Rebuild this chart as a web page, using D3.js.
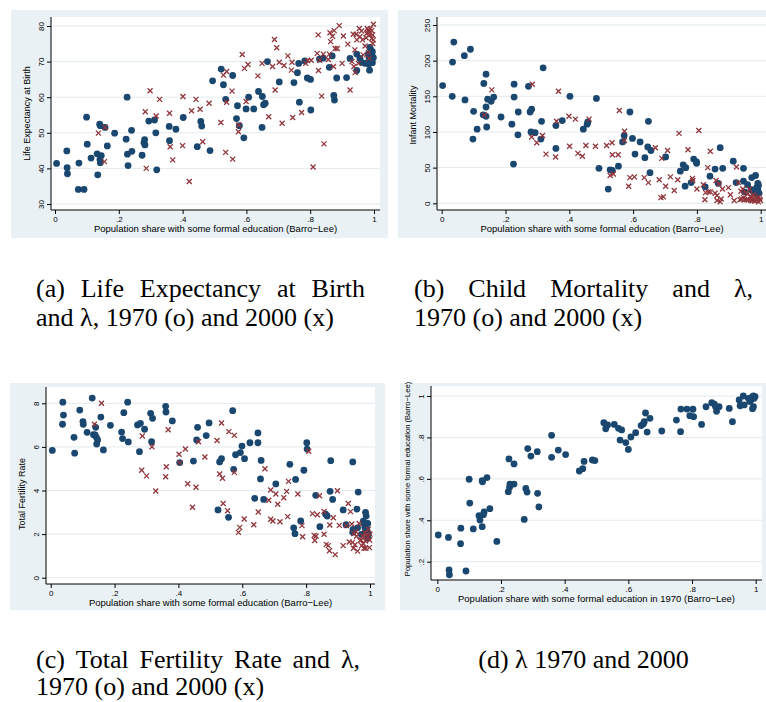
<!DOCTYPE html>
<html lang="en">
<head>
<meta charset="UTF-8">
<title>Education and development, 1970 and 2000</title>
<script src="https://d3js.org/d3.v7.min.js"></script>
<style>
body { margin: 0; background: #fff; }
svg { display: block; }
.tick text { font-family: "Liberation Sans", Arial, sans-serif; font-size: 8px; fill: #000; }
.tick line { stroke: #000; }
.axtitle { font-family: "Liberation Sans", Arial, sans-serif; font-size: 9.5px; fill: #000; }
.cap { font-family: "Liberation Serif", "Times New Roman", serif; font-size: 26px; fill: #000; }
</style>
</head>
<body>
<div id="chart"></div>
<script>
// ---- data: [share with formal education, value] ----
var xTicks = [0, .2, .4, .6, .8, 1];
var yTicksLE = [30, 40, 50, 60, 70, 80];
var yTicksIM = [0, 50, 100, 150, 200, 250];
var yTicksTFR = [0, 2, 4, 6, 8];
var yTicksLam = [.2, .4, .6, .8, 1];

// (a) life expectancy, 1970 dots / 2000 crosses
var leDots = [[0.005,41.4],[0.037,44.9],[0.038,40.2],[0.039,38.5],[0.073,34.1],[0.075,41.5],[0.091,34.1],[0.099,54.4],[0.101,46.8],[0.113,42.9],[0.132,44.1],[0.134,38.2],[0.140,52.4],[0.142,52.0],[0.145,43.6],[0.141,42.5],[0.142,41.6],[0.157,51.5],[0.164,46.3],[0.187,49.9],[0.223,48.2],[0.226,60.0],[0.227,44.0],[0.229,40.8],[0.240,50.7],[0.241,44.8],[0.273,43.7],[0.279,47.2],[0.281,48.1],[0.282,46.6],[0.294,53.3],[0.312,53.6],[0.316,50.0],[0.319,39.6],[0.358,51.8],[0.359,47.8],[0.379,51.0],[0.402,54.3],[0.446,46.1],[0.457,53.2],[0.460,51.9],[0.486,45.0],[0.494,64.6],[0.521,67.9],[0.528,63.5],[0.535,59.4],[0.557,66.1],[0.569,54.0],[0.572,57.6],[0.578,52.0],[0.592,48.6],[0.599,56.7],[0.607,60.0],[0.623,56.7],[0.638,61.6],[0.650,60.2],[0.649,51.5],[0.654,57.9],[0.659,58.3],[0.666,70.0],[0.703,64.3],[0.749,64.1],[0.760,66.9],[0.764,69.5],[0.766,58.6],[0.783,70.2],[0.791,65.4],[0.801,65.0],[0.802,56.4],[0.829,70.7],[0.841,71.0],[0.860,68.4],[0.869,71.6],[0.874,60.5],[0.876,59.2],[0.883,65.4],[0.914,65.5],[0.925,70.9],[0.946,72.1],[0.946,67.5],[0.956,70.9],[0.961,69.8],[0.973,69.5],[0.982,72.1],[0.985,70.9],[0.987,74.0],[0.990,73.3],[0.993,71.9],[0.995,72.8],[0.993,70.0],[0.986,67.6],[0.995,69.7],[0.998,71.1],[0.984,69.3]];
var leCross = [[0.136,49.9],[0.155,41.9],[0.157,51.5],[0.283,55.9],[0.286,40.0],[0.298,61.8],[0.317,54.7],[0.328,59.4],[0.359,55.5],[0.361,46.1],[0.369,42.4],[0.401,60.2],[0.400,46.4],[0.421,36.3],[0.428,56.2],[0.442,59.4],[0.455,56.6],[0.463,47.5],[0.483,58.3],[0.520,52.9],[0.528,66.2],[0.535,44.5],[0.538,67.2],[0.538,58.6],[0.555,61.7],[0.557,42.6],[0.576,52.2],[0.575,50.3],[0.587,72.0],[0.594,68.1],[0.599,58.8],[0.605,69.2],[0.636,66.0],[0.649,69.5],[0.670,54.5],[0.682,68.6],[0.688,76.2],[0.690,62.0],[0.695,73.9],[0.703,69.8],[0.712,52.7],[0.718,68.9],[0.730,71.6],[0.741,67.6],[0.743,69.8],[0.745,54.3],[0.773,55.7],[0.786,69.5],[0.792,70.3],[0.803,70.4],[0.809,40.4],[0.822,72.3],[0.825,77.5],[0.826,67.5],[0.830,70.4],[0.836,60.3],[0.841,72.1],[0.843,46.9],[0.857,70.6],[0.860,72.1],[0.862,78.1],[0.864,75.6],[0.870,77.1],[0.873,68.6],[0.875,78.7],[0.878,73.7],[0.885,73.7],[0.891,80.1],[0.900,69.5],[0.904,77.2],[0.918,74.9],[0.925,62.0],[0.931,70.0],[0.935,77.7],[0.937,68.6],[0.940,73.3],[0.941,66.9],[0.944,77.7],[0.946,76.1],[0.951,69.5],[0.954,79.3],[0.956,77.0],[0.961,78.6],[0.964,76.1],[0.966,71.9],[0.972,74.4],[0.975,76.7],[0.977,77.9],[0.979,79.3],[0.982,78.9],[0.985,78.2],[0.987,77.5],[0.989,79.2],[0.993,78.7],[0.993,76.5],[0.996,77.5],[0.998,80.5],[0.998,76.1],[0.982,72.6],[0.985,70.9],[0.996,75.1]];

// (b) infant mortality
var imDots = [[0.003,165],[0.034,198],[0.038,226],[0.033,150],[0.071,207],[0.073,145],[0.090,216],[0.100,129],[0.098,90],[0.111,104],[0.132,168],[0.130,124],[0.139,181],[0.139,135],[0.139,122],[0.144,146],[0.141,107],[0.155,143],[0.163,149],[0.186,121],[0.220,111],[0.225,55],[0.227,167],[0.227,149],[0.240,128],[0.239,96],[0.272,164],[0.277,128],[0.282,132],[0.280,100],[0.293,99],[0.318,190],[0.313,115],[0.311,90],[0.358,109],[0.358,77],[0.378,116],[0.402,150],[0.444,104],[0.456,111],[0.458,114],[0.485,147],[0.493,49],[0.522,20],[0.528,47],[0.535,46],[0.554,52],[0.567,86],[0.572,95],[0.590,128],[0.598,91],[0.606,69],[0.622,86],[0.637,64],[0.646,79],[0.648,115],[0.653,43],[0.656,74],[0.702,65],[0.748,45],[0.757,54],[0.763,24],[0.765,50],[0.782,29],[0.790,62],[0.799,56],[0.799,58],[0.826,23],[0.841,38],[0.857,48],[0.867,28],[0.873,78],[0.881,49],[0.914,59],[0.923,29],[0.946,49],[0.946,31],[0.949,16],[0.959,26],[0.972,36],[0.984,39],[0.982,17],[0.987,22],[0.987,13],[0.991,19],[0.991,28],[0.993,25],[0.970,19],[0.995,14],[0.977,16]];
var imCross = [[0.134,124],[0.157,159],[0.284,167],[0.282,93],[0.298,85],[0.316,95],[0.327,69],[0.357,65],[0.360,115],[0.366,157],[0.401,80],[0.399,122],[0.419,118],[0.427,70],[0.441,66],[0.452,81],[0.462,118],[0.482,80],[0.517,81],[0.528,39],[0.534,85],[0.535,68],[0.538,41],[0.553,68],[0.557,130],[0.573,101],[0.573,88],[0.586,24],[0.590,36],[0.604,37],[0.635,36],[0.648,29],[0.670,78],[0.682,33],[0.687,8],[0.690,63],[0.695,9],[0.702,24],[0.708,74],[0.717,37],[0.729,18],[0.740,33],[0.744,98],[0.772,75],[0.786,35],[0.787,32],[0.800,20],[0.806,102],[0.820,26],[0.825,5],[0.827,15],[0.834,50],[0.836,16],[0.842,73],[0.842,16],[0.857,14],[0.860,32],[0.863,11],[0.863,4],[0.869,27],[0.873,2],[0.876,6],[0.880,20],[0.899,22],[0.905,12],[0.917,4],[0.924,51],[0.930,29],[0.935,5],[0.938,17],[0.940,6],[0.944,20],[0.946,8],[0.949,5],[0.953,15],[0.956,5],[0.959,13],[0.961,5],[0.965,20],[0.968,10],[0.970,4],[0.972,8],[0.975,4],[0.977,12],[0.980,6],[0.982,3],[0.984,8],[0.989,5],[0.993,2],[0.997,6],[0.999,4],[0.993,9]];

// (c) total fertility rate
var tfrDots = [[0.005,5.84],[0.037,7.04],[0.038,8.05],[0.040,7.46],[0.073,6.44],[0.075,5.71],[0.091,7.69],[0.101,7.16],[0.102,7.04],[0.114,6.67],[0.130,8.24],[0.134,6.56],[0.139,6.55],[0.141,6.90],[0.143,6.44],[0.144,6.13],[0.147,6.32],[0.157,7.37],[0.165,5.86],[0.187,6.99],[0.222,6.68],[0.225,6.38],[0.229,7.57],[0.241,8.05],[0.243,6.23],[0.272,7.01],[0.278,5.78],[0.281,7.08],[0.294,6.81],[0.313,7.54],[0.316,6.24],[0.319,7.31],[0.360,7.86],[0.361,7.60],[0.381,7.19],[0.404,5.28],[0.447,5.35],[0.457,6.32],[0.460,6.90],[0.487,6.52],[0.496,7.10],[0.524,3.11],[0.529,5.31],[0.535,5.46],[0.557,2.77],[0.570,7.66],[0.573,4.97],[0.579,5.64],[0.594,5.74],[0.599,6.04],[0.607,5.46],[0.624,6.19],[0.639,3.64],[0.649,6.64],[0.649,6.19],[0.657,4.53],[0.659,5.38],[0.667,3.59],[0.705,4.30],[0.749,5.20],[0.761,2.29],[0.765,2.02],[0.767,4.51],[0.783,2.60],[0.793,4.93],[0.802,6.19],[0.803,5.90],[0.830,3.78],[0.843,2.34],[0.861,2.91],[0.866,2.83],[0.877,5.37],[0.875,3.96],[0.883,3.59],[0.916,3.11],[0.925,2.43],[0.946,5.31],[0.947,2.22],[0.946,2.08],[0.961,2.29],[0.959,3.15],[0.963,3.93],[0.973,1.99],[0.979,2.59],[0.986,3.00],[0.988,2.83],[0.993,2.49],[0.990,2.22],[0.993,1.82],[0.984,2.31],[0.995,2.02],[0.982,2.49],[0.986,2.13]];
var tfrCross = [[0.137,7.04],[0.159,8.0],[0.285,4.93],[0.287,6.5],[0.300,4.67],[0.317,6.01],[0.329,3.98],[0.360,4.63],[0.362,5.09],[0.368,6.79],[0.402,5.66],[0.404,5.28],[0.422,5.90],[0.429,4.31],[0.444,3.23],[0.455,4.15],[0.463,6.24],[0.483,5.54],[0.521,6.29],[0.529,4.76],[0.535,7.10],[0.538,4.56],[0.540,3.40],[0.554,3.07],[0.558,6.70],[0.575,6.53],[0.575,4.83],[0.588,2.08],[0.592,2.31],[0.606,2.69],[0.636,2.43],[0.650,3.01],[0.671,5.00],[0.683,3.55],[0.689,4.02],[0.689,2.68],[0.696,2.60],[0.705,3.84],[0.711,3.37],[0.718,2.57],[0.730,3.67],[0.739,3.96],[0.742,2.80],[0.745,4.42],[0.774,3.84],[0.787,2.39],[0.789,1.88],[0.808,5.80],[0.820,2.94],[0.825,1.94],[0.827,1.71],[0.831,1.91],[0.835,2.89],[0.842,3.76],[0.856,3.04],[0.856,1.99],[0.863,1.53],[0.869,1.47],[0.873,1.24],[0.874,2.42],[0.885,2.75],[0.891,1.06],[0.898,3.99],[0.904,2.40],[0.916,1.47],[0.926,2.39],[0.932,3.40],[0.935,1.64],[0.939,3.03],[0.943,2.46],[0.945,1.62],[0.948,1.35],[0.949,2.03],[0.953,1.51],[0.956,2.11],[0.958,1.90],[0.961,1.22],[0.966,2.49],[0.969,1.70],[0.972,1.73],[0.974,1.47],[0.977,1.91],[0.979,1.56],[0.981,1.35],[0.984,2.06],[0.986,1.68],[0.990,1.99],[0.993,1.88],[0.995,2.23],[0.998,1.38],[0.999,1.73],[1.0,2.0],[0.987,1.35]];

// (d) share 1970 vs share 2000
var lamDots = [[0.003,0.329],[0.035,0.317],[0.037,0.160],[0.038,0.137],[0.073,0.287],[0.074,0.362],[0.090,0.155],[0.100,0.598],[0.102,0.483],[0.113,0.358],[0.131,0.422],[0.134,0.401],[0.141,0.591],[0.142,0.586],[0.141,0.369],[0.145,0.427],[0.147,0.440],[0.156,0.606],[0.165,0.456],[0.187,0.298],[0.223,0.538],[0.225,0.696],[0.228,0.575],[0.227,0.559],[0.241,0.672],[0.241,0.575],[0.273,0.404],[0.278,0.554],[0.282,0.536],[0.284,0.746],[0.294,0.710],[0.314,0.731],[0.315,0.530],[0.319,0.464],[0.359,0.810],[0.359,0.704],[0.380,0.739],[0.403,0.717],[0.446,0.638],[0.457,0.649],[0.461,0.684],[0.487,0.691],[0.495,0.688],[0.523,0.871],[0.529,0.842],[0.535,0.860],[0.556,0.863],[0.569,0.844],[0.579,0.836],[0.574,0.787],[0.592,0.775],[0.600,0.742],[0.608,0.802],[0.623,0.823],[0.640,0.857],[0.647,0.865],[0.650,0.876],[0.654,0.918],[0.659,0.826],[0.668,0.892],[0.705,0.831],[0.751,0.884],[0.764,0.828],[0.765,0.937],[0.784,0.937],[0.793,0.905],[0.803,0.936],[0.805,0.900],[0.830,0.863],[0.844,0.948],[0.862,0.968],[0.870,0.961],[0.874,0.948],[0.877,0.926],[0.885,0.948],[0.917,0.940],[0.927,0.876],[0.948,0.981],[0.951,0.953],[0.961,1.0],[0.964,0.957],[0.977,0.989],[0.985,0.981],[0.990,0.997],[0.993,1.0],[0.995,0.989],[0.993,0.948],[0.990,0.939],[0.982,0.973],[0.998,0.997],[0.988,0.992],[0.980,0.985]];

var xTitle = "Population share with some formal education (Barro\u2212Lee)";
var xTitle70 = "Population share with some formal education in 1970 (Barro\u2212Lee)";

var navy = "#1a476f", maroon = "#90353b", panelBg = "#e9f1f4", gridCol = "#e1eaee";

// layout of each Stata panel (pixels)
var panels = [
  { bg: [11, 10, 388, 238], plot: [51, 17, 380, 210], xr: [55, 374], yd: [30, 80], yr: [204, 26],
    yTicks: yTicksLE, yTitle: "Life Expectancy at Birth", yTitleC: 113.5, xTitle: xTitle, dots: leDots, cross: leCross },
  { bg: [398, 10, 780, 238], plot: [437, 17, 767, 210], xr: [441.7, 760.7], yd: [0, 250], yr: [203.3, 25],
    yTicks: yTicksIM, yTitle: "Infant Mortality", yTitleC: 115, xTitle: xTitle, dots: imDots, cross: imCross },
  { bg: [10, 383, 385, 610], plot: [46, 387, 375, 584], xr: [50.7, 370], yd: [0, 8], yr: [577.7, 403.3],
    yTicks: yTicksTFR, yTitle: "Total Fertility Rate", yTitleC: 494, xTitle: xTitle, dots: tfrDots, cross: tfrCross },
  { bg: [400, 383, 780, 610], plot: [431, 386, 762, 580], xr: [437.3, 755.7], yd: [.2, 1], yr: [561.7, 396],
    yTicks: yTicksLam, yTitle: xTitle, yTitleC: 479, yTitleSize: 7.6, xTitle: xTitle70, dots: lamDots, cross: [] }
];

var fmt = function(d) { return d === 0 ? "0" : String(d).replace(/^0\./, "."); };

var svg = d3.select("#chart").append("svg")
  .attr("width", 766).attr("height", 702);
svg.append("rect").attr("width", 766).attr("height", 702).attr("fill", "#fff");

panels.forEach(function(p) {
  var g = svg.append("g");
  var x = d3.scaleLinear().domain([0, 1]).range(p.xr);
  var y = d3.scaleLinear().domain(p.yd).range(p.yr);
  var L = p.plot[0], T = p.plot[1], R = p.plot[2], B = p.plot[3];

  g.append("rect").attr("x", p.bg[0]).attr("y", p.bg[1])
    .attr("width", p.bg[2] - p.bg[0]).attr("height", p.bg[3] - p.bg[1]).attr("fill", panelBg);
  g.append("rect").attr("x", L).attr("y", T).attr("width", R - L).attr("height", B - T).attr("fill", "#fff");

  // gridlines
  g.selectAll(".grid").data(p.yTicks).enter().append("line")
    .attr("x1", L).attr("x2", R)
    .attr("y1", function(d) { return y(d); }).attr("y2", function(d) { return y(d); })
    .attr("stroke", gridCol).attr("stroke-width", 1);

  // x axis
  var xa = g.append("g").attr("transform", "translate(0," + B + ")")
    .call(d3.axisBottom(x).tickValues(xTicks).tickFormat(fmt).tickSize(4).tickPadding(2).tickSizeOuter(0));
  xa.select(".domain").remove();
  g.append("line").attr("x1", L).attr("x2", R).attr("y1", B).attr("y2", B).attr("stroke", "#000");

  // y axis, labels rotated like Stata
  var ya = g.append("g").attr("transform", "translate(" + L + ",0)")
    .call(d3.axisLeft(y).tickValues(p.yTicks).tickFormat(fmt).tickSize(4).tickSizeOuter(0));
  ya.select(".domain").remove();
  ya.selectAll(".tick text")
    .attr("x", 0).attr("y", -7).attr("dy", 0)
    .attr("text-anchor", "middle").attr("transform", "rotate(-90)");
  g.append("line").attr("x1", L).attr("x2", L).attr("y1", T).attr("y2", B).attr("stroke", "#000");

  // titles
  g.append("text").attr("class", "axtitle")
    .attr("x", (L + R) / 2).attr("y", B + 22).attr("text-anchor", "middle").text(p.xTitle);
  g.append("text").attr("class", "axtitle")
    .attr("transform", "translate(" + (L - 21) + "," + p.yTitleC + ") rotate(-90)")
    .attr("text-anchor", "middle")
    .style("font-size", (p.yTitleSize || 9) + "px")
    .text(p.yTitle);

  // markers
  g.selectAll(".dot").data(p.dots).enter().append("circle")
    .attr("cx", function(d) { return x(d[0]); })
    .attr("cy", function(d) { return y(d[1]); })
    .attr("r", 3.4).attr("fill", navy);
  g.selectAll(".cross").data(p.cross).enter().append("path")
    .attr("transform", function(d) { return "translate(" + x(d[0]) + "," + y(d[1]) + ")"; })
    .attr("d", "M-2.5,-2.5L2.5,2.5M-2.5,2.5L2.5,-2.5")
    .attr("stroke", maroon).attr("stroke-width", 1.3).attr("fill", "none");
});

// ---- captions (LaTeX style, first lines justified) ----
function capLine(text, x0, y, x1, mode) {
  var g = svg.append("g").attr("transform", "translate(0," + y + ")");
  if (mode === "justify") {
    var words = text.split(" ");
    var nodes = words.map(function(w) { return g.append("text").attr("class", "cap").attr("y", 0).text(w); });
    var widths = nodes.map(function(n) { return n.node().getComputedTextLength(); });
    var gap = (x1 - x0 - d3.sum(widths)) / (words.length - 1);
    var cx = x0;
    nodes.forEach(function(n, i) { n.attr("x", cx); cx += widths[i] + gap; });
  } else if (mode === "center") {
    g.append("text").attr("class", "cap").attr("x", (x0 + x1) / 2).attr("y", 0)
      .attr("text-anchor", "middle").text(text);
  } else {
    g.append("text").attr("class", "cap").attr("x", x0).attr("y", 0).text(text);
  }
}
capLine("(a) Life Expectancy at Birth", 36, 297, 365, "justify");
capLine("and \u03bb, 1970 (o) and 2000 (x)", 36, 326);
capLine("(b) Child Mortality and \u03bb,", 414, 297, 753, "justify");
capLine("1970 (o) and 2000 (x)", 414, 326);
capLine("(c) Total Fertility Rate and \u03bb,", 36, 668, 360, "justify");
capLine("1970 (o) and 2000 (x)", 36, 695);
capLine("(d) \u03bb 1970 and 2000", 414, 668, 753, "center");
</script>
</body>
</html>
